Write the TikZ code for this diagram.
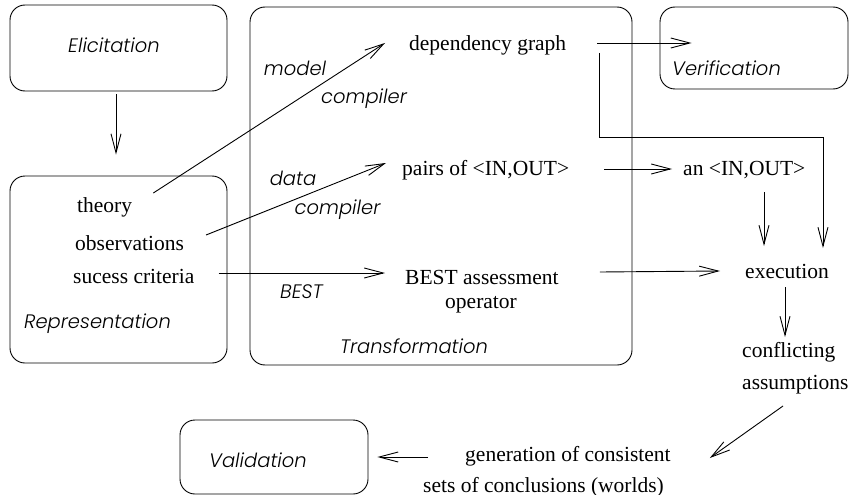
\documentclass[tikz,border=0pt]{standalone}
\usepackage{fontspec}
\setmainfont{Liberation Serif}
\newfontfamily\agfont[UprightFont=* Light, ItalicFont=* Light Italic]{Poppins}
\usetikzlibrary{arrows.meta,calc}
\begin{document}
\begin{tikzpicture}[x=1pt,y=-1pt,
  stage/.style={draw, rounded corners=15pt, line width=0.9pt, inner sep=0pt},
  serif/.style={inner sep=0pt, anchor=base west, font=\fontsize{21.5}{26}\selectfont},
  sans/.style={inner sep=0pt, anchor=base, font=\agfont\itshape\fontsize{19.5}{24}\selectfont},
  flow/.style={line width=0.9pt, -{Straight Barb[length=19pt,width=10pt,line width=0.9pt]}}]
\useasboundingbox (0,0) rectangle (849,495);

% stage boxes
\node[stage, minimum width=217pt, minimum height=86pt]  (elic)  at (118.5,48)  {};
\node[stage, minimum width=217pt, minimum height=187pt] (repr)  at (118.5,269.5) {};
\node[stage, minimum width=382pt, minimum height=358pt] (trans) at (441,186)   {};
\node[stage, minimum width=188pt, minimum height=82pt]  (verif) at (754,48)    {};
\node[stage, minimum width=188pt, minimum height=74pt]  (valid) at (274,457)   {};

% stage names
\node[sans] (lelic)  at (114,53)    {Elicitation};
\node[sans] (lrepr)  at (97.5,328)  {Representation};
\node[sans] (ltrans) at (414,353)   {Transformation};
\node[sans] (lverif) at (726.5,75)  {Verification};
\node[sans] (lvalid) at (258,467)   {Validation};

% transformation labels
\node[sans] (model) at (295,75)    {model};
\node[sans] (comp1) at (364,103)   {compiler};
\node[sans] (data)  at (293,185)   {data};
\node[sans] (comp2) at (337.5,214) {compiler};
\node[sans] (bestl) at (301.5,298) {BEST};

% representation contents
\node[serif] (theory) at (77,212)  {theory};
\node[serif] (obs)    at (75,250)  {observations};
\node[serif] (crit)   at (73,283)  {sucess criteria};

% products
\node[serif] (dep)   at (409,51)  {dependency graph};
\node[serif] (pairs) at (402,175) {pairs of <IN,OUT>};
\node[serif] (bestA) at (405,284) {BEST assessment};
\node[serif] (bestB) at (445,308) {operator};
\node[serif] (an)    at (683,175) {an <IN,OUT>};
\node[serif] (exec)  at (745,278) {execution};
\node[serif] (confl) at (742,357) {conflicting};
\node[serif] (assum) at (742,389) {assumptions};
\node[serif] (gen1)  at (465,461) {generation of consistent};
\node[serif] (gen2)  at (423,492) {sets of conclusions (worlds)};

% connectors
\draw[flow] ($(elic.south)+(-2.5,3)$) -- ($(repr.north)+(-2.5,-21)$);
\draw[flow] ($(theory.base east)+(21,-19)$) -- ($(dep.base west)+(-24,-8)$);
\draw[flow] ($(obs.base east)+(22,-15)$) -- ($(pairs.base west)+(-16,-12)$);
\draw[flow] ($(crit.base east)+(24,-10)$) -- ($(bestA.base west)+(-20,-11)$);
\draw[flow] ($(dep.base east)+(31,-8)$) -- ($(verif.west)+(32,-5)$);
\draw[flow] ($(dep.base east)+(33,2)$) -- ++(0,84) -| ($(exec.base east)+(-6,-30)$);
\draw[flow] ($(pairs.base east)+(35,-6)$) -- ($(an.base west)+(-11,-6)$);
\draw[flow] ($(an.base west)+(81,17)$) -- ($(exec.base west)+(19,-32)$);
\draw[flow] ($(bestA.base east)+(41,-12)$) -- ($(exec.base west)+(-25,-7)$);
\draw[flow] ($(exec.base west)+(40,9)$) -- ($(confl.base west)+(43,-20)$);
\draw[flow] ($(assum.base west)+(41,17)$) -- ($(gen1.base east)+(39,-3)$);
\draw[flow] ($(gen1.base west)+(-37,-4)$) -- ($(valid.east)+(9,0)$);
\end{tikzpicture}
\end{document}
